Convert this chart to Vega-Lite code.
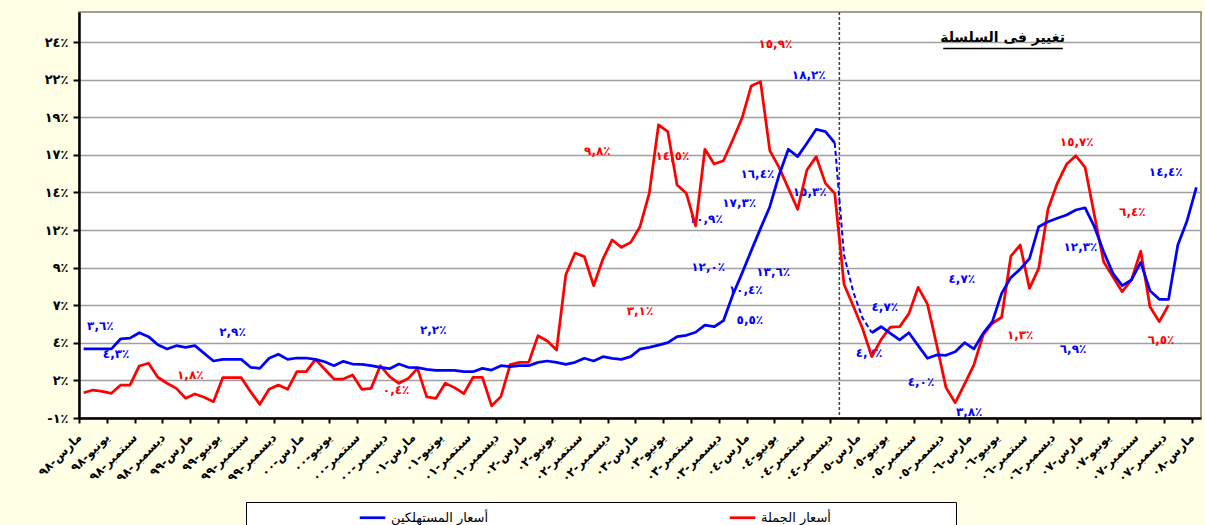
{
  "$schema": "https://vega.github.io/schema/vega-lite/v6.json",
  "width": 1122,
  "height": 406,
  "autosize": {"type": "none"},
  "padding": {"left": 79, "top": 12, "right": 4, "bottom": 107},
  "background": "#FFFFE5",
  "config": {
    "view": {"fill": "white", "stroke": "#808080", "strokeWidth": 1.5},
    "font": "DejaVu Sans",
    "axis": {"labelOverlap": false},
    "axisX": {"labelOverlap": false}
  },
  "datasets": {
    "monthly": [
      {"i":0,"date":"1998-03","cpi":3.6,"wpi":0.68},
      {"i":1,"date":"1998-04","cpi":3.6,"wpi":0.86},
      {"i":2,"date":"1998-05","cpi":3.6,"wpi":0.77},
      {"i":3,"date":"1998-06","cpi":3.6,"wpi":0.64},
      {"i":4,"date":"1998-07","cpi":4.27,"wpi":1.19},
      {"i":5,"date":"1998-08","cpi":4.31,"wpi":1.19},
      {"i":6,"date":"1998-09","cpi":4.67,"wpi":2.46},
      {"i":7,"date":"1998-10","cpi":4.41,"wpi":2.64},
      {"i":8,"date":"1998-11","cpi":3.87,"wpi":1.71},
      {"i":9,"date":"1998-12","cpi":3.59,"wpi":1.31},
      {"i":10,"date":"1999-01","cpi":3.81,"wpi":0.97},
      {"i":11,"date":"1999-02","cpi":3.7,"wpi":0.31},
      {"i":12,"date":"1999-03","cpi":3.81,"wpi":0.6},
      {"i":13,"date":"1999-04","cpi":3.3,"wpi":0.38},
      {"i":14,"date":"1999-05","cpi":2.79,"wpi":0.08},
      {"i":15,"date":"1999-06","cpi":2.9,"wpi":1.68},
      {"i":16,"date":"1999-07","cpi":2.9,"wpi":1.68},
      {"i":17,"date":"1999-08","cpi":2.9,"wpi":1.68},
      {"i":18,"date":"1999-09","cpi":2.37,"wpi":0.75},
      {"i":19,"date":"1999-10","cpi":2.3,"wpi":-0.09},
      {"i":20,"date":"1999-11","cpi":2.97,"wpi":0.91},
      {"i":21,"date":"1999-12","cpi":3.24,"wpi":1.19},
      {"i":22,"date":"2000-01","cpi":2.9,"wpi":0.91},
      {"i":23,"date":"2000-02","cpi":2.99,"wpi":2.08},
      {"i":24,"date":"2000-03","cpi":2.99,"wpi":2.08},
      {"i":25,"date":"2000-04","cpi":2.9,"wpi":2.9},
      {"i":26,"date":"2000-05","cpi":2.74,"wpi":2.24},
      {"i":27,"date":"2000-06","cpi":2.48,"wpi":1.59},
      {"i":28,"date":"2000-07","cpi":2.77,"wpi":1.59},
      {"i":29,"date":"2000-08","cpi":2.59,"wpi":1.86},
      {"i":30,"date":"2000-09","cpi":2.57,"wpi":0.91},
      {"i":31,"date":"2000-10","cpi":2.48,"wpi":0.97},
      {"i":32,"date":"2000-11","cpi":2.37,"wpi":2.48},
      {"i":33,"date":"2000-12","cpi":2.28,"wpi":1.75},
      {"i":34,"date":"2001-01","cpi":2.59,"wpi":1.31},
      {"i":35,"date":"2001-02","cpi":2.37,"wpi":1.62},
      {"i":36,"date":"2001-03","cpi":2.35,"wpi":2.3},
      {"i":37,"date":"2001-04","cpi":2.24,"wpi":0.4},
      {"i":38,"date":"2001-05","cpi":2.17,"wpi":0.31},
      {"i":39,"date":"2001-06","cpi":2.17,"wpi":1.31},
      {"i":40,"date":"2001-07","cpi":2.17,"wpi":1.02},
      {"i":41,"date":"2001-08","cpi":2.08,"wpi":0.62},
      {"i":42,"date":"2001-09","cpi":2.08,"wpi":1.71},
      {"i":43,"date":"2001-10","cpi":2.3,"wpi":1.71},
      {"i":44,"date":"2001-11","cpi":2.19,"wpi":-0.19},
      {"i":45,"date":"2001-12","cpi":2.48,"wpi":0.42},
      {"i":46,"date":"2002-01","cpi":2.41,"wpi":2.55},
      {"i":47,"date":"2002-02","cpi":2.48,"wpi":2.7},
      {"i":48,"date":"2002-03","cpi":2.48,"wpi":2.7},
      {"i":49,"date":"2002-04","cpi":2.7,"wpi":4.47},
      {"i":50,"date":"2002-05","cpi":2.79,"wpi":4.12},
      {"i":51,"date":"2002-06","cpi":2.7,"wpi":3.52},
      {"i":52,"date":"2002-07","cpi":2.57,"wpi":8.53},
      {"i":53,"date":"2002-08","cpi":2.7,"wpi":9.97},
      {"i":54,"date":"2002-09","cpi":2.97,"wpi":9.73},
      {"i":55,"date":"2002-10","cpi":2.79,"wpi":7.8},
      {"i":56,"date":"2002-11","cpi":3.08,"wpi":9.57},
      {"i":57,"date":"2002-12","cpi":2.97,"wpi":10.84},
      {"i":58,"date":"2003-01","cpi":2.9,"wpi":10.35},
      {"i":59,"date":"2003-02","cpi":3.08,"wpi":10.68},
      {"i":60,"date":"2003-03","cpi":3.58,"wpi":11.72},
      {"i":61,"date":"2003-04","cpi":3.7,"wpi":13.94},
      {"i":62,"date":"2003-05","cpi":3.85,"wpi":18.5},
      {"i":63,"date":"2003-06","cpi":4.01,"wpi":18.04},
      {"i":64,"date":"2003-07","cpi":4.41,"wpi":14.49},
      {"i":65,"date":"2003-08","cpi":4.5,"wpi":13.94},
      {"i":66,"date":"2003-09","cpi":4.7,"wpi":11.78},
      {"i":67,"date":"2003-10","cpi":5.18,"wpi":16.87},
      {"i":68,"date":"2003-11","cpi":5.07,"wpi":15.89},
      {"i":69,"date":"2003-12","cpi":5.47,"wpi":16.11},
      {"i":70,"date":"2004-01","cpi":7.18,"wpi":17.49},
      {"i":71,"date":"2004-02","cpi":8.62,"wpi":18.93},
      {"i":72,"date":"2004-03","cpi":10.13,"wpi":21.08},
      {"i":73,"date":"2004-04","cpi":11.61,"wpi":21.37},
      {"i":74,"date":"2004-05","cpi":13.05,"wpi":16.78},
      {"i":75,"date":"2004-06","cpi":15.16,"wpi":15.67},
      {"i":76,"date":"2004-07","cpi":16.87,"wpi":14.27},
      {"i":77,"date":"2004-08","cpi":16.38,"wpi":12.88},
      {"i":78,"date":"2004-09","cpi":17.27,"wpi":15.49},
      {"i":79,"date":"2004-10","cpi":18.2,"wpi":16.38},
      {"i":80,"date":"2004-11","cpi":18.04,"wpi":14.6},
      {"i":81,"date":"2004-12","cpi":17.3,"wpi":13.94},
      {"i":82,"date":"2005-01","cpi":9.84,"wpi":7.9},
      {"i":83,"date":"2005-02","cpi":7.38,"wpi":6.45},
      {"i":84,"date":"2005-03","cpi":5.65,"wpi":4.95},
      {"i":85,"date":"2005-04","cpi":4.67,"wpi":3.08},
      {"i":86,"date":"2005-05","cpi":5.07,"wpi":4.21},
      {"i":87,"date":"2005-06","cpi":4.63,"wpi":5.05},
      {"i":88,"date":"2005-07","cpi":4.19,"wpi":5.07},
      {"i":89,"date":"2005-08","cpi":4.67,"wpi":5.94},
      {"i":90,"date":"2005-09","cpi":3.81,"wpi":7.69},
      {"i":91,"date":"2005-10","cpi":2.97,"wpi":6.57},
      {"i":92,"date":"2005-11","cpi":3.19,"wpi":3.85},
      {"i":93,"date":"2005-12","cpi":3.17,"wpi":1.02},
      {"i":94,"date":"2006-01","cpi":3.41,"wpi":0.02},
      {"i":95,"date":"2006-02","cpi":4.01,"wpi":1.26},
      {"i":96,"date":"2006-03","cpi":3.59,"wpi":2.52},
      {"i":97,"date":"2006-04","cpi":4.63,"wpi":4.52},
      {"i":98,"date":"2006-05","cpi":5.41,"wpi":5.3},
      {"i":99,"date":"2006-06","cpi":7.29,"wpi":5.7},
      {"i":100,"date":"2006-07","cpi":8.35,"wpi":9.77},
      {"i":101,"date":"2006-08","cpi":8.9,"wpi":10.5},
      {"i":102,"date":"2006-09","cpi":9.6,"wpi":7.62},
      {"i":103,"date":"2006-10","cpi":11.72,"wpi":8.95},
      {"i":104,"date":"2006-11","cpi":12.05,"wpi":12.88},
      {"i":105,"date":"2006-12","cpi":12.28,"wpi":14.61},
      {"i":106,"date":"2007-01","cpi":12.5,"wpi":15.87},
      {"i":107,"date":"2007-02","cpi":12.83,"wpi":16.44},
      {"i":108,"date":"2007-03","cpi":12.98,"wpi":15.67},
      {"i":109,"date":"2007-04","cpi":11.72,"wpi":12.5},
      {"i":110,"date":"2007-05","cpi":10.06,"wpi":9.39},
      {"i":111,"date":"2007-06","cpi":8.62,"wpi":8.4},
      {"i":112,"date":"2007-07","cpi":7.8,"wpi":7.4},
      {"i":113,"date":"2007-08","cpi":8.18,"wpi":8.18},
      {"i":114,"date":"2007-09","cpi":9.35,"wpi":10.1},
      {"i":115,"date":"2007-10","cpi":7.47,"wpi":6.4},
      {"i":116,"date":"2007-11","cpi":6.89,"wpi":5.41},
      {"i":117,"date":"2007-12","cpi":6.89,"wpi":6.51},
      {"i":118,"date":"2008-01","cpi":10.5,"wpi":null},
      {"i":119,"date":"2008-02","cpi":12.12,"wpi":null},
      {"i":120,"date":"2008-03","cpi":14.34,"wpi":null}
    ],
    "notes": [
      {"series":"cpi","i":1.8,"value":5.12,"text":"٣,٦٪"},
      {"series":"cpi","i":3.5,"value":3.28,"text":"٤,٣٪"},
      {"series":"cpi","i":16.05,"value":4.72,"text":"٢,٩٪"},
      {"series":"cpi","i":37.7,"value":4.85,"text":"٢,٢٪"},
      {"series":"cpi","i":67.35,"value":9.06,"text":"١٢,٠٪"},
      {"series":"cpi","i":74.36,"value":8.71,"text":"١٣,٦٪"},
      {"series":"cpi","i":71.4,"value":7.51,"text":"١٠,٤٪"},
      {"series":"cpi","i":71.85,"value":5.52,"text":"٥,٥٪"},
      {"series":"cpi","i":67.1,"value":12.23,"text":"١٠,٩٪"},
      {"series":"cpi","i":70.7,"value":13.32,"text":"١٧,٣٪"},
      {"series":"cpi","i":72.66,"value":15.22,"text":"١٦,٤٪"},
      {"series":"cpi","i":78.3,"value":14.0,"text":"١٥,٣٪"},
      {"series":"cpi","i":78.2,"value":21.8,"text":"١٨,٢٪"},
      {"series":"cpi","i":94.7,"value":8.22,"text":"٤,٧٪"},
      {"series":"cpi","i":86.4,"value":6.4,"text":"٤,٧٪"},
      {"series":"cpi","i":84.7,"value":3.3,"text":"٤,٧٪"},
      {"series":"cpi","i":90.3,"value":1.41,"text":"٤,٠٪"},
      {"series":"cpi","i":95.5,"value":-0.62,"text":"٣,٨٪"},
      {"series":"cpi","i":107.5,"value":10.35,"text":"١٢,٣٪"},
      {"series":"cpi","i":106.7,"value":3.61,"text":"٦,٩٪"},
      {"series":"cpi","i":116.7,"value":15.34,"text":"١٤,٤٪"},
      {"series":"wpi","i":11.5,"value":1.88,"text":"١,٨٪"},
      {"series":"wpi","i":33.7,"value":0.84,"text":"٠,٤٪"},
      {"series":"wpi","i":55.4,"value":16.78,"text":"٩,٨٪"},
      {"series":"wpi","i":63.5,"value":16.44,"text":"١٤,٥٪"},
      {"series":"wpi","i":74.6,"value":23.87,"text":"١٥,٩٪"},
      {"series":"wpi","i":60.0,"value":6.13,"text":"٣,١٪"},
      {"series":"wpi","i":107.1,"value":17.33,"text":"١٥,٧٪"},
      {"series":"wpi","i":113.1,"value":12.68,"text":"٦,٤٪"},
      {"series":"wpi","i":101.0,"value":4.54,"text":"١,٣٪"},
      {"series":"wpi","i":116.2,"value":4.19,"text":"٦,٥٪"}
    ],
    "heading": [
      {"i":99.1,"value":24.27,"text":"تغيير  فى السلسلة","i_from":92.7,"i_to":105.6,"underline":23.57}
    ],
    "seriesBreak": [
      {"i":81.5,"note":"تغيير فى السلسلة"}
    ]
  },
  "encoding": {
    "x": {"field": "i", "type": "quantitative", "scale": {"domain": [-0.5, 120.5], "nice": false, "zero": false},
      "axis": {
        "values": [-0.5,2.5,5.5,8.5,11.5,14.5,17.5,20.5,23.5,26.5,29.5,32.5,35.5,38.5,41.5,44.5,47.5,50.5,53.5,56.5,59.5,62.5,65.5,68.5,71.5,74.5,77.5,80.5,83.5,86.5,89.5,92.5,95.5,98.5,101.5,104.5,107.5,110.5,113.5,116.5,119.5],
        "title": null, "grid": false,
        "domainColor": "black", "domainWidth": 2.5,
        "tickColor": "black", "tickWidth": 2, "tickSize": 5,
        "labelAngle": -45, "labelAlign": "right", "labelBaseline": "middle", "labelPadding": 12,
        "labelFont": "DejaVu Sans", "labelFontSize": 12, "labelFontWeight": "bold", "labelColor": "black",
        "labelOverlap": false, "labelFlush": false, "labelBound": false,
        "labelExpr": "['مارس','يونيو','سبتمبر','ديسمبر'][round((datum.value+0.5)/3)%4] + '-' + ['٩٨','٩٩','٠٠','٠١','٠٢','٠٣','٠٤','٠٥','٠٦','٠٧','٠٨'][floor(round((datum.value+0.5)/3)/4)]"
      }}
  },
  "layer": [
    {
      "data": {"name": "notes"},
      "transform": [{"filter": "datum.series == 'cpi'"}],
      "mark": {"type": "text", "color": "#0000FF", "font": "DejaVu Sans", "fontSize": 12, "fontWeight": "bold", "align": "center", "baseline": "middle"},
      "encoding": {
        "y": {"field": "value", "type": "quantitative", "scale": {"domain": [-1, 26], "nice": false, "zero": false},
          "axis": {
            "values": [-1,1.5,4,6.5,9,11.5,14,16.5,19,21.5,24],
            "title": null, "grid": true, "gridColor": "#a0a0a0", "gridWidth": 1.5,
            "domainColor": "black", "domainWidth": 2.5,
            "tickColor": "black", "tickWidth": 2, "tickSize": 6,
            "labelPadding": 5, "labelFont": "DejaVu Sans", "labelFontSize": 13, "labelFontWeight": "bold", "labelColor": "black",
            "labelExpr": "replace(replace(replace(replace(replace(replace(replace(replace(replace(replace(toString(round(datum.value)),regexp('0','g'),'٠'),regexp('1','g'),'١'),regexp('2','g'),'٢'),regexp('3','g'),'٣'),regexp('4','g'),'٤'),regexp('5','g'),'٥'),regexp('6','g'),'٦'),regexp('7','g'),'٧'),regexp('8','g'),'٨'),regexp('9','g'),'٩') + '٪'"
          }},
        "text": {"field": "text", "type": "nominal"}
      }
    },
    {
      "data": {"name": "notes"},
      "transform": [{"filter": "datum.series == 'wpi'"}],
      "mark": {"type": "text", "color": "#FF0000", "font": "DejaVu Sans", "fontSize": 12, "fontWeight": "bold", "align": "center", "baseline": "middle"},
      "encoding": {
        "y": {"field": "value", "type": "quantitative"},
        "text": {"field": "text", "type": "nominal"}
      }
    },
    {
      "data": {"name": "heading"},
      "mark": {"type": "text", "color": "black", "font": "DejaVu Sans", "fontSize": 14, "fontWeight": "bold", "align": "center", "baseline": "middle"},
      "encoding": {
        "y": {"field": "value", "type": "quantitative"},
        "text": {"field": "text", "type": "nominal"}
      }
    },
    {
      "data": {"name": "heading"},
      "mark": {"type": "rule", "color": "black", "strokeWidth": 1.5},
      "encoding": {
        "x": {"field": "i_from", "type": "quantitative"},
        "x2": {"field": "i_to"},
        "y": {"field": "underline", "type": "quantitative"}
      }
    },
    {
      "data": {"name": "seriesBreak"},
      "mark": {"type": "rule", "color": "#404040", "strokeWidth": 1.5, "strokeDash": [3, 2]},
      "encoding": {}
    },
    {
      "data": {"name": "monthly"},
      "transform": [{"filter": "isValid(datum.wpi)"}],
      "mark": {"type": "line", "strokeWidth": 2.75, "strokeJoin": "round"},
      "encoding": {
        "y": {"field": "wpi", "type": "quantitative"},
        "color": {"datum": "أسعار الجملة", "type": "nominal",
          "scale": {"domain": ["أسعار المستهلكين", "أسعار الجملة"], "range": ["#0000FF", "#FF0000"]},
          "legend": {
            "orient": "none", "legendX": 167, "legendY": 490, "direction": "horizontal",
            "title": " ", "titleOrient": "left", "titlePadding": 111, "titleFontSize": 13,
            "strokeColor": "black", "fillColor": "white", "padding": 1,
            "symbolType": "stroke", "symbolSize": 650, "symbolStrokeWidth": 2.75,
            "labelFont": "DejaVu Sans", "labelFontSize": 13, "labelColor": "black", "labelOffset": 4,
            "columnPadding": 235, "labelLimit": 400,
            "labelExpr": "datum.label == 'أسعار الجملة' ? datum.label + pad('', 13, '\u2800') : datum.label"
          }}
      }
    },
    {
      "data": {"name": "monthly"},
      "transform": [{"filter": "datum.i <= 81"}],
      "mark": {"type": "line", "strokeWidth": 2.75, "strokeJoin": "round"},
      "encoding": {
        "y": {"field": "cpi", "type": "quantitative"},
        "color": {"datum": "أسعار المستهلكين", "type": "nominal"}
      }
    },
    {
      "data": {"name": "monthly"},
      "transform": [{"filter": "datum.i >= 85"}],
      "mark": {"type": "line", "strokeWidth": 2.75, "strokeJoin": "round"},
      "encoding": {
        "y": {"field": "cpi", "type": "quantitative"},
        "color": {"datum": "أسعار المستهلكين", "type": "nominal"}
      }
    },
    {
      "data": {"name": "monthly"},
      "transform": [{"filter": "datum.i >= 81 && datum.i <= 85"}],
      "mark": {"type": "line", "strokeWidth": 2, "strokeDash": [5, 3], "color": "#0000FF"},
      "encoding": {
        "y": {"field": "cpi", "type": "quantitative"}
      }
    }
  ]
}
